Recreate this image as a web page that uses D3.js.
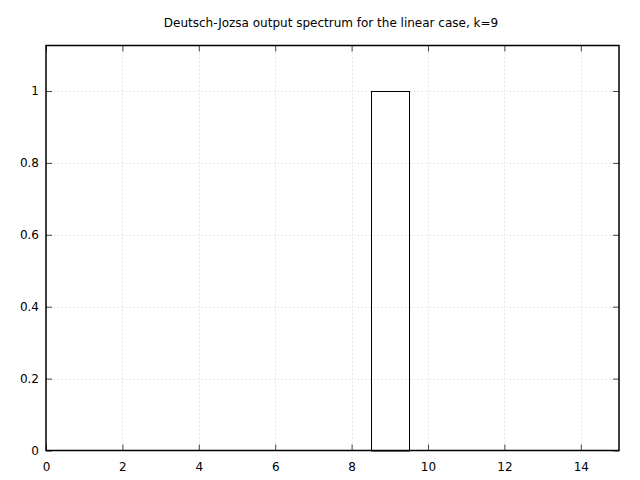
<!DOCTYPE html>
<html><head><meta charset="utf-8">
<script src="https://cdn.jsdelivr.net/npm/d3@7"></script>
<style>body{margin:0;background:#fff}svg{display:block}text{font-family:"DejaVu Sans",sans-serif;font-size:12px;fill:#000}</style>
</head><body><svg width="640" height="480"></svg>
<script>
const titleText = "Deutsch-Jozsa output spectrum for the linear case, k=9";
const states = [0,1,2,3,4,5,6,7,8,9,10,11,12,13,14,15];
const probs = [0,0,0,0,0,0,0,0,0,1,0,0,0,0,0,0];
const xTicks = [0,2,4,6,8,10,12,14];
const yTicks = [0,0.2,0.4,0.6,0.8,1];
const yTickLabels = ["0","0.2","0.4","0.6","0.8","1"];

const svg = d3.select("svg");
const L=46, R=619, T=45.5, B=450.5;
const x = d3.scaleLinear().domain([0,15]).range([L,R]);
const y = d3.scaleLinear().domain([0,1.1265]).range([B,T]);

// grid
const g = svg.append("g");
g.selectAll(".gx").data(xTicks.filter(d=>d>0)).enter().append("line")
 .attr("x1",d=>Math.round(x(d))+0.5).attr("x2",d=>Math.round(x(d))+0.5).attr("y1",T).attr("y2",B)
 .attr("stroke","#d0d0d0").attr("stroke-dasharray","1,3");
g.selectAll(".gy").data(yTicks.filter(d=>d>0)).enter().append("line")
 .attr("y1",d=>Math.round(y(d))+0.5).attr("y2",d=>Math.round(y(d))+0.5).attr("x1",L).attr("x2",R)
 .attr("stroke","#d0d0d0").attr("stroke-dasharray","1,3");

// bars (boxes)
svg.append("clipPath").attr("id","clip").append("rect").attr("x",L).attr("y",T).attr("width",R-L).attr("height",B-T+1);
svg.selectAll(".bar").data(states).enter().append("rect")
 .attr("x",d=>Math.round(x(d-0.5))+0.5).attr("width",d=>Math.round(x(d+0.5))-Math.round(x(d-0.5)))
 .attr("y",(d,i)=>Math.round(y(probs[i]))+0.5).attr("height",(d,i)=>Math.round(y(0))-Math.round(y(probs[i])))
 .attr("fill","none").attr("stroke","#000").attr("stroke-width",1)
 .attr("clip-path","url(#clip)");

// axes
const ax = svg.append("g");
const bx = d3.axisBottom(x).tickValues(xTicks).tickSize(-6).tickPadding(12).tickFormat(d3.format("d"));
ax.append("g").attr("transform",`translate(0,${B})`).call(bx);
const tx = d3.axisTop(x).tickValues(xTicks).tickSize(-6).tickFormat("");
ax.append("g").attr("transform",`translate(0,${T})`).call(tx);
const ly = d3.axisLeft(y).tickValues(yTicks).tickSize(-6).tickPadding(7).tickFormat((d,i)=>yTickLabels[i]);
ax.append("g").attr("transform",`translate(${L},0)`).call(ly);
const ry = d3.axisRight(y).tickValues(yTicks).tickSize(-6).tickFormat("");
ax.append("g").attr("transform",`translate(${R},0)`).call(ry);
ax.selectAll(".domain").remove();
ax.selectAll(".tick line").attr("stroke","#444");
ax.selectAll("text").style("font-family","'DejaVu Sans',sans-serif").style("font-size","12px").attr("fill","#000");
svg.append("rect").attr("x",L).attr("y",T).attr("width",R-L).attr("height",B-T)
 .attr("fill","none").attr("stroke","#000").attr("stroke-width",1.5);

svg.append("text").attr("x",331).attr("y",27).attr("text-anchor","middle").text(titleText);
</script></body></html>
